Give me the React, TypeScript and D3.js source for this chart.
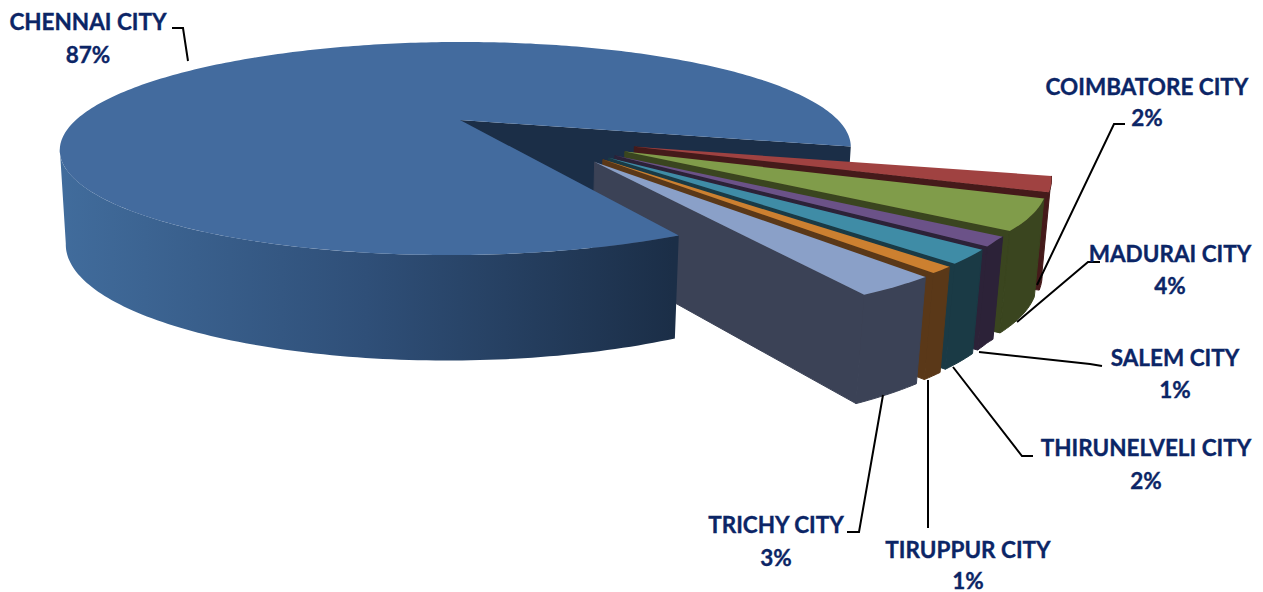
import * as d3 from "d3";

// Share of each city, in drawing order around the pie
const cities = ["CHENNAI CITY", "COIMBATORE CITY", "MADURAI CITY", "SALEM CITY", "THIRUNELVELI CITY", "TIRUPPUR CITY", "TRICHY CITY"];
const shares = [86.5, 2.2, 4.4, 1.3, 1.9, 0.9, 2.8];
const topColors = ["#436b9e", "#a04241", "#809c4a", "#6b5288", "#3f8ca6", "#cc8030", "#8aa0c8"];
const wallColors = ["#1b2e47", "#451a1a", "#3a451f", "#2c2238", "#1a3a45", "#5a3818", "#3b4256"];

// Label placement: text centre, the two text baselines, and the leader polyline
const labelLayout = [
  { x: 88, y1: 30, y2: 63, leader: [[172, 28], [183, 28], [188, 61]] },
  { x: 1147, y1: 95, y2: 126, leader: [[1125, 124], [1114, 124], [1037, 285]] },
  { x: 1170, y1: 262, y2: 294, leader: [[1100, 262], [1088, 262], [1017, 322]] },
  { x: 1175, y1: 366, y2: 398, leader: [[1102, 366], [1090, 364], [979, 352]] },
  { x: 1146, y1: 456, y2: 489, leader: [[1033, 456], [1022, 456], [953, 367]] },
  { x: 968, y1: 558, y2: 589, leader: [[928, 528], [928, 380]] },
  { x: 776, y1: 533, y2: 566, leader: [[847, 532], [859, 532], [883, 395]] },
];

// Perspective camera for the pie: (u, v) is the ground plane in pie radii,
// level 0 is the top face and level 1 the bottom face.
const cam = { cx: 460, cy: 120, a: 381, b: -5, d: 98.9, g: 0.008, k: 0.2676, r: 0.014, q0: 92, q1: -11.4 };

const project = (u: number, v: number, level: number): [number, number] => {
  const w = 1 + cam.g * u - cam.k * v + cam.r * level;
  return [
    cam.cx + (cam.a * u + cam.b * v) / w,
    cam.cy + (cam.d * v + level * (cam.q0 + cam.q1 * v)) / w,
  ];
};

const TAU = Math.PI * 2;
const deg = (a: number) => (a * Math.PI) / 180;
const pieStart = deg(153.2);
const explodeDistance = 0.5;

const arcs = d3.pie<number>().sort(null).value((d) => d).startAngle(pieStart).endAngle(pieStart + TAU)(shares);
const path = d3.line();

// d3.pie angles run clockwise from twelve o'clock; the camera plane runs clockwise from three.
const polar = (angle: number, radius: number, ox: number, oy: number): [number, number] => [
  ox + radius * Math.cos(angle - Math.PI / 2),
  oy + radius * Math.sin(angle - Math.PI / 2),
];

const sweep = (a0: number, a1: number) => {
  const steps = Math.max(2, Math.ceil(Math.abs(a1 - a0) / deg(1)));
  return d3.range(steps + 1).map((i) => a0 + ((a1 - a0) * i) / steps);
};

// The detached slices fan out at half the spread of their bisectors
const explodeOffset = (mid: number): [number, number] => {
  const dir = deg(130) + 0.49 * (mid - TAU - deg(128.3));
  return polar(dir, explodeDistance, 0, 0);
};

// Rim of a detached slice: the far-right slices stretch further out under the lens
const rimStretch = d3.scaleLinear().domain([deg(130), deg(104)]).range([0.925, 0.97]).clamp(true);
const slicedRadius = (a: number) => rimStretch(a - TAU);

function Slice({ index }: { index: number }) {
  const { startAngle, endAngle } = arcs[index];
  const [ox, oy] = explodeOffset((startAngle + endAngle) / 2);
  const rim = sweep(startAngle, endAngle).map((a) => polar(a, slicedRadius(a), ox, oy));
  const at = (p: [number, number], level: number) => project(p[0], p[1], level);
  const apex: [number, number] = [ox, oy];
  const endRim = rim[rim.length - 1];
  const top = [at(apex, 0), ...rim.map((p) => at(p, 0))];
  const side = [...rim.map((p) => at(p, 0)), ...rim.slice().reverse().map((p) => at(p, 1))];
  const wall = [at(apex, 0), at(endRim, 0), at(endRim, 1), at(apex, 1)];
  return (
    <g stroke={wallColors[index]} strokeWidth={1}>
      <path d={path(wall) + "Z"} fill={wallColors[index]} />
      <path d={path(side) + "Z"} fill={wallColors[index]} />
      <path d={path(top) + "Z"} fill={topColors[index]} stroke="none" />
    </g>
  );
}

// The rim of the large slice turns out of view at its left silhouette
const mainSilhouette = deg(254.5);

function MainSlice() {
  const { startAngle, endAngle } = arcs[0];
  const rimPoint = (a: number, level: number) => {
    const [u, v] = polar(a, 1, 0, 0);
    return project(u, v, level);
  };
  const top = [project(0, 0, 0), ...sweep(startAngle, endAngle).map((a) => rimPoint(a, 0))];
  const visible = sweep(startAngle, mainSilhouette);
  const side = [...visible.map((a) => rimPoint(a, 0)), ...visible.slice().reverse().map((a) => rimPoint(a, 1))];
  return (
    <g>
      <path d={path(side) + "Z"} fill="url(#mainSide)" />
      <path d={path(top) + "Z"} fill={topColors[0]} />
    </g>
  );
}

function MainBackWall() {
  const { endAngle } = arcs[0];
  const [u, v] = polar(endAngle, 1, 0, 0);
  const wall = [project(0, 0, 0), project(u, v, 0), project(u, v, 1), project(0, 0, 1)];
  return <path d={path(wall) + "Z"} fill={wallColors[0]} />;
}

const labelStyle = { fontFamily: "Lato", fontWeight: 700, fontSize: 22.5, fill: "#0b2566", stroke: "#0b2566", strokeWidth: 0.35 };

export default function App() {
  return (
    <svg width={1263} height={592} style={{ position: "absolute", left: 0, top: 0 }}>
      <defs>
        <linearGradient id="mainSide" gradientUnits="userSpaceOnUse" x1={60} x2={673} y1={0} y2={0}>
          <stop offset="0" stopColor="#416c9c" />
          <stop offset="0.5" stopColor="#2f4f78" />
          <stop offset="1" stopColor="#1b2e47" />
        </linearGradient>
      </defs>
      <MainBackWall />
      {d3.range(1, shares.length).map((i) => (
        <Slice key={i} index={i} />
      ))}
      <MainSlice />
      {labelLayout.map((l, i) => (
        <g key={i}>
          <path d={path(l.leader as [number, number][]) ?? ""} fill="none" stroke="#000" strokeWidth={2} />
          <text x={l.x} y={l.y1} textAnchor="middle" style={labelStyle}>
            {cities[i]}
          </text>
          <text x={l.x} y={l.y2} textAnchor="middle" style={labelStyle}>
            {d3.format(".0f")(shares[i])}%
          </text>
        </g>
      ))}
    </svg>
  );
}
